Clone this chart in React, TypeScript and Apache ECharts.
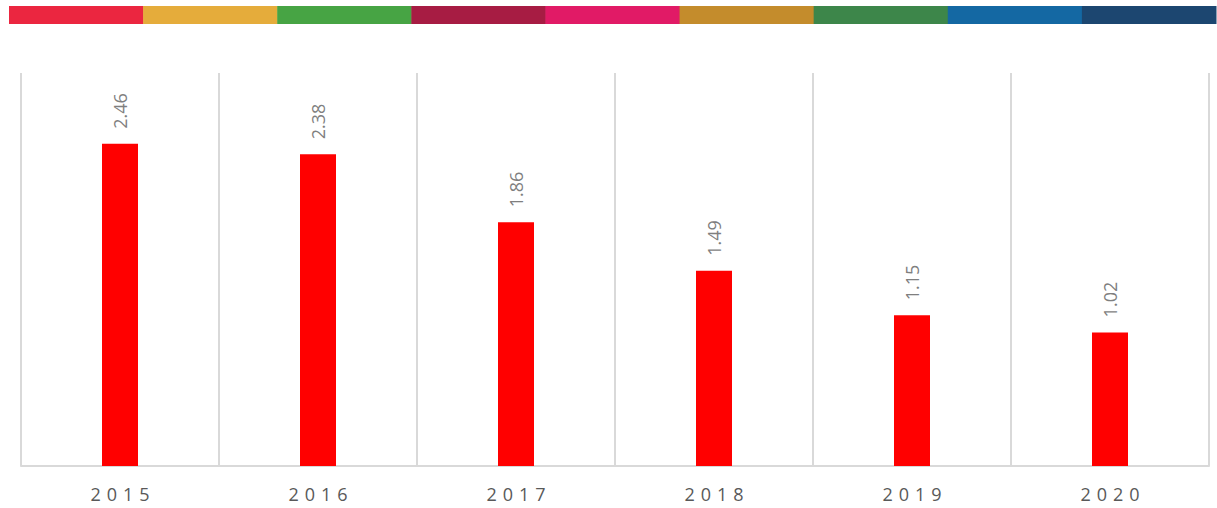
import React, { useEffect, useRef } from "react";
import * as echarts from "echarts";

const years = ["2015", "2016", "2017", "2018", "2019", "2020"];
const values = [2.46, 2.38, 1.86, 1.49, 1.15, 1.02];
const stripeColors = [
  "#EB2640",
  "#E5AC3B",
  "#47A444",
  "#A71C43",
  "#E11A66",
  "#C48C2C",
  "#3D864A",
  "#1468A3",
  "#1C4670",
];

export default function App() {
  const ref = useRef<HTMLDivElement>(null);
  useEffect(() => {
    if (!ref.current) return;
    const chart = echarts.init(ref.current, null, { renderer: "svg" });
    const stripeLeft = 9;
    const stripeRight = 1216;
    const segW = (stripeRight - stripeLeft) / stripeColors.length;
    chart.setOption({
      animation: false,
      backgroundColor: "#ffffff",
      graphic: stripeColors.map((c, i) => ({
        type: "rect",
        shape: { x: stripeLeft + i * segW, y: 6, width: segW + 0.5, height: 18 },
        style: { fill: c },
        silent: true,
      })),
      grid: { left: 21, right: 8, top: 73, bottom: 42, containLabel: false },
      xAxis: {
        type: "category",
        data: years,
        boundaryGap: true,
        axisLine: { show: true, lineStyle: { color: "#d9d9d9", width: 2 } },
        axisTick: { show: false },
        splitLine: { show: true, lineStyle: { color: "#d9d9d9", width: 2 } },
        axisLabel: {
          color: "#595959",
          fontSize: 18,
          fontFamily: "Open Sans",
          margin: 19,
          formatter: (v: string) => v.split("").join("\u2004"),
        },
      },
      yAxis: {
        type: "value",
        min: 0,
        max: 3,
        show: false,
        splitLine: { show: false },
      },
      series: [
        {
          type: "bar",
          data: values,
          barWidth: 36,
          itemStyle: { color: "#FF0000" },
          label: {
            show: true,
            position: "top",
            rotate: 90,
            align: "left",
            verticalAlign: "middle",
            distance: 15,
            color: "#7f7f7f",
            fontSize: 18,
            fontFamily: "Open Sans",
            formatter: (p: any) => p.value.toFixed(2),
          },
        },
      ],
    });
    return () => chart.dispose();
  }, []);
  return (
    <div
      ref={ref}
      style={{ position: "fixed", left: 0, top: 0, width: 1217, height: 508 }}
    />
  );
}
